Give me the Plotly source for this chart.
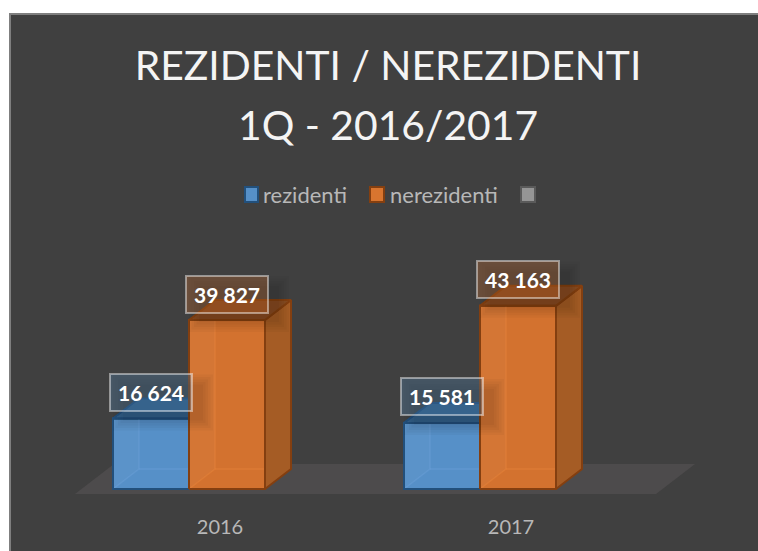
import plotly.graph_objects as go

# ---- data ----
years = ["2016", "2017"]
rezidenti = [16624, 15581]
nerezidenti = [39827, 43163]
legend_names = ["rezidenti", "nerezidenti"]
title_lines = ["REZIDENTI / NEREZIDENTI", "1Q - 2016/2017"]

W, H = 758, 551
BG = "#404040"
PX_X = 291.0            # pixels per category
PX_Y = 169 / 39827      # pixels per unit of value
X0_PX, Y0_PX = 189, 489 # pixel of x=0, value=0
L, R, T, B = 10, 758, 14, 494

DX = 26 / PX_X          # depth of a bar in data units
DY = 20 / PX_Y
BW = 76 / PX_X          # bar width
BLUE_EDGE, ORANGE_EDGE = "#22507c", "#843f10"


def dx_px(p):
    return (p - X0_PX) / PX_X


def dy_px(p):
    return (Y0_PX - p) / PX_Y


xs = list(range(len(years)))
fig = go.Figure()

# front faces
fig.add_bar(x=xs, y=rezidenti, width=BW, offset=-BW, name=legend_names[0], showlegend=False,
            marker=dict(color="#5690c8", line=dict(color=BLUE_EDGE, width=2)), hoverinfo="y")
fig.add_bar(x=xs, y=nerezidenti, width=BW, offset=0, name=legend_names[1], showlegend=False,
            marker=dict(color="#d3722f", line=dict(color=ORANGE_EDGE, width=2)), hoverinfo="y")


def poly(px, py, fill, line=None, width=2):
    fig.add_scatter(x=px + px[:1], y=py + py[:1], mode="lines", fill="toself", fillcolor=fill,
                    line=dict(color=line or "rgba(0,0,0,0)", width=width),
                    showlegend=False, hoverinfo="skip")


def seg(px, py, color, width=1.5):
    fig.add_scatter(x=px, y=py, mode="lines", line=dict(color=color, width=width),
                    showlegend=False, hoverinfo="skip")


for i in xs:
    # blue top, cut where the orange bar stands in front of it
    a, v = i - BW, rezidenti[i]
    poly([a, a + DX, i, i], [v, v + DY, v + DY, v], "#34608c", BLUE_EDGE)
    # blue see-through inner edges
    poly([a, a + DX, a + DX, a], [0, DY, v, v], "rgba(255,255,255,0.03)")
    seg([a, a + DX, a + DX], [0, DY, v], "rgba(120,170,225,0.3)")
    seg([a + DX, i], [DY, DY], "rgba(120,170,225,0.3)")
    seg([a, a, i, i, a], [0, v, v, 0, 0], BLUE_EDGE, 2)

    # orange side and top
    a, v = i, nerezidenti[i]
    poly([a + BW, a + BW + DX, a + BW + DX, a + BW], [0, DY, v + DY, v], "#a55c25", ORANGE_EDGE)
    poly([a, a + DX, a + BW + DX, a + BW], [v, v + DY, v + DY, v], "#894d20", ORANGE_EDGE)
    # orange see-through inner edges
    poly([a, a + DX, a + DX, a], [0, DY, v, v], "rgba(255,255,255,0.03)")
    seg([a, a + DX, a + DX], [0, DY, v], "rgba(235,135,60,0.4)")
    seg([a + DX, a + BW], [DY, DY], "rgba(235,135,60,0.4)")
    seg([a, a, a + BW, a + BW, a], [0, v, v, 0, 0], ORANGE_EDGE, 2)

shapes = [
    # panel
    dict(type="rect", xref="paper", yref="paper", x0=10 / W, x1=1.01, y0=-0.01, y1=1 - 14 / H,
         fillcolor=BG, line=dict(color="#7f7f7f", width=2), layer="below"),
    # floor
    dict(type="path", xref="x", yref="y", layer="below", fillcolor="#4d4b4c", line=dict(width=0),
         path=f"M {dx_px(75)} {dy_px(494)} L {dx_px(114)} {dy_px(464)} L {dx_px(695)} {dy_px(464)} "
              f"L {dx_px(656)} {dy_px(494)} Z"),
]

annotations = []


def label(x, v, fill):
    for k in range(5):
        g = 9 - 2.5 * k
        shapes.append(dict(type="rect", xref="x", yref="y", xsizemode="pixel", ysizemode="pixel",
                           xanchor=x, yanchor=v, x0=-41 - g + 12, x1=41 + g + 12,
                           y0=26 - 19 - g - 10, y1=26 + 19 + g - 10,
                           fillcolor="rgba(0,0,0,0.03)", line=dict(width=0), layer="above"))
    annotations.append(dict(x=x, y=v, xref="x", yref="y", yshift=26, showarrow=False,
                            text=f"{v:,}".replace(",", " "), width=80, height=35,
                            font=dict(family="Lato", size=21, color="#ffffff", weight="bold"),
                            bgcolor=fill, bordercolor="rgba(255,255,255,0.45)", borderwidth=2, borderpad=0))


for i in xs:
    label(i - BW / 2, rezidenti[i], "rgba(91,155,213,0.25)")
    label(i + BW / 2, nerezidenti[i], "rgba(237,125,49,0.25)")


# legend
def swatch(x0, x1, fill, line):
    shapes.append(dict(type="rect", xref="paper", yref="paper", x0=x0 / W, x1=x1 / W,
                       y0=1 - 202 / H, y1=1 - 187 / H, fillcolor=fill, line=dict(color=line, width=2)))


def legend_text(x, text):
    annotations.append(dict(x=x / W, y=1 - 194 / H, xref="paper", yref="paper", showarrow=False,
                            xanchor="left", yanchor="middle", text=text,
                            font=dict(family="Lato", size=22, color="#b8b8b8")))


swatch(245, 258, "#5690c8", BLUE_EDGE)
legend_text(261, legend_names[0])
swatch(370, 384, "#d8752f", ORANGE_EDGE)
legend_text(388, legend_names[1])
swatch(521, 535, "#959595", "#5a5a5a")

TITLE_FONT = dict(family="Lato", size=40.8, color="#f4f4f4")
annotations.append(dict(x=388 / W, y=1 - 124 / H, xref="paper", yref="paper", showarrow=False,
                        xanchor="center", yanchor="middle", text=title_lines[1], font=TITLE_FONT))

fig.update_layout(
    width=W, height=H, margin=dict(l=0, r=0, t=0, b=0, autoexpand=False),
    paper_bgcolor="#ffffff", plot_bgcolor="rgba(0,0,0,0)", showlegend=False, barmode="overlay",
    title=dict(text=title_lines[0], x=388 / W, xanchor="center",
               y=1 - 66 / H, yanchor="middle", font=TITLE_FONT),
    xaxis=dict(domain=[L / W, R / W], range=[dx_px(L), dx_px(R)], tickmode="array",
               tickvals=[i + (31 / PX_X) for i in xs], ticktext=years, showgrid=False, zeroline=False,
               showline=False, ticks="outside", ticklen=15, tickcolor="rgba(0,0,0,0)",
               tickfont=dict(family="Lato", size=20, color="#b8b8b8")),
    yaxis=dict(domain=[1 - B / H, 1 - T / H], range=[dy_px(B), dy_px(T)], visible=False),
    shapes=shapes, annotations=annotations,
)

fig.write_html("out.html", config={"displayModeBar": False},
               post_script="document.body.style.margin='0';")
